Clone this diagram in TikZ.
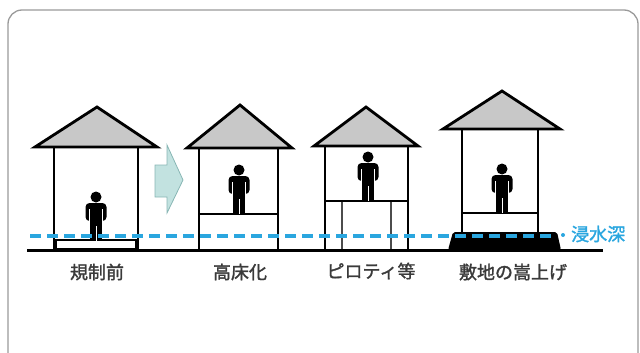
\documentclass[tikz,border=0pt]{standalone}
\usepackage{fontspec}
\newfontfamily\jpfont[FakeBold=1.6]{Noto Sans CJK JP}
\usetikzlibrary{positioning}

\definecolor{roofgray}{HTML}{C8C8C8}
\definecolor{floodblue}{HTML}{2AA6DF}
\definecolor{arrowfill}{HTML}{C2E2E0}
\definecolor{arrowline}{HTML}{88B6B4}
\definecolor{labelgray}{HTML}{3A3A3A}
\definecolor{framegray}{HTML}{9A9A9A}

\tikzset{
  roof/.style={fill=roofgray,draw=black,line width=2.8pt,line join=miter},
  wall/.style={draw=black,line width=2.8pt},
  slab/.style={draw=black,line width=1.8pt},
  pilotis/.style={draw=black!70,line width=1.3pt},
  ground/.style={draw=black,line width=3pt},
  flood/.style={draw=floodblue,line width=3.8pt,dash pattern=on 11pt off 6pt},
  caption/.style={font=\jpfont\fontsize{18}{20}\selectfont,text=labelgray,inner sep=0pt},
  person/.pic={
    % feet at the origin
    \fill (0,-43) circle (5.5);
    \fill[rounded corners=4] (-10.5,-19) -- (-10.5,-37) -- (10.5,-37) -- (10.5,-19) -- cycle;
    \draw[white,line width=1pt] (-6.5,-31) -- (-6.5,-18) (6.5,-31) -- (6.5,-18);
    \fill (-5.8,-21) rectangle (5.8,0);
    \draw[white,line width=1pt] (0,-14) -- (0,0.5);
  }
}

\begin{document}
\begin{tikzpicture}[x=1pt,y=-1pt]
\clip (0,0) rectangle (640,353);
\useasboundingbox (0,0) rectangle (640,353);
\draw[framegray,line width=1.3pt,rounded corners=14pt] (8,10) rectangle (638,380);

% before the rule
\filldraw[roof] (35,147) -- (97,107) -- (157,147) -- cycle;
\draw[wall] (54,147) -- (54,250) (138,147) -- (138,250);
\draw[slab] (56,240) rectangle (136,249);
\pic at (96,240) {person};

% arrow
\filldraw[fill=arrowfill,draw=arrowline,line width=0.8pt]
  (155,165) -- (167,165) -- (167,145) -- (183,180) -- (167,213) -- (167,197) -- (155,197) -- cycle;

% raised floor
\filldraw[roof] (187,148) -- (240,105) -- (292,148) -- cycle;
\draw[wall] (199,148) -- (199,250) (278,148) -- (278,250);
\draw[slab] (199,214) -- (278,214);
\pic at (239,213) {person};

% pilotis
\filldraw[roof] (314,146) -- (366,107) -- (418,146) -- cycle;
\draw[wall] (325,146) -- (325,250) (408,146) -- (408,250);
\draw[slab] (325,201) -- (408,201);
\draw[pilotis] (342,202) -- (342,250) (391,202) -- (391,250);
\pic at (368,200) {person};

% raised ground
\fill[rounded corners=2pt] (448,250) -- (453,232) -- (557,232) -- (561,250) -- cycle;
\filldraw[roof] (443,129) -- (502,91) -- (560,129) -- cycle;
\draw[wall] (462,129) -- (462,233) (538,129) -- (538,233);
\draw[slab] (462,213) -- (538,213);
\pic at (502,212) {person};

\draw[ground] (27,250) -- (603,250);

% flood depth
\coordinate (floodstart) at (30,236);
\coordinate (floodend) at (556,236);
\node[circle,fill=floodblue,inner sep=0pt,minimum size=4pt] (depthdot) at (563,235) {};
\node[caption,text=floodblue,anchor=west] (depth) at (571,234) {浸水深};
\draw[flood] (floodstart) -- (floodend);

% captions
\node[caption] (before) at (97,272) {規制前};
\node[caption] (raised) at (240,272) {高床化};
\node[caption] (piloti) at (371,271) {ピロティ等};
\node[caption] (mound) at (513,272) {敷地の嵩上げ};
\end{tikzpicture}
\end{document}
